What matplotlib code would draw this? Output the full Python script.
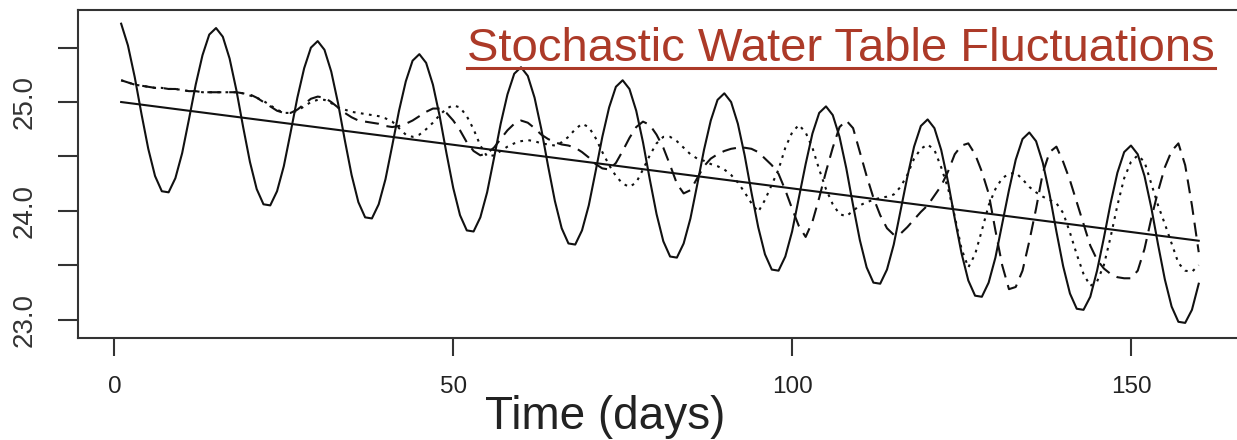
import matplotlib.pyplot as plt
import numpy as np
from matplotlib.lines import Line2D

# daily water table level (m) over 160 days
days = np.arange(1, 161)

level_periodic = [
    25.72, 25.52, 25.23, 24.89, 24.57, 24.32, 24.18, 24.17, 24.30, 24.53, 24.84, 25.16, 25.43, 25.62,
    25.68, 25.60, 25.40, 25.11, 24.77, 24.45, 24.20, 24.06, 24.05, 24.18, 24.41, 24.72, 25.04, 25.31, 25.50,
    25.56, 25.48, 25.28, 24.99, 24.65, 24.33, 24.08, 23.94, 23.93, 24.06, 24.29, 24.60, 24.92, 25.19, 25.38,
    25.44, 25.36, 25.16, 24.87, 24.53, 24.21, 23.96, 23.82, 23.81, 23.94, 24.17, 24.48, 24.80, 25.07, 25.26,
    25.32, 25.24, 25.04, 24.75, 24.41, 24.09, 23.84, 23.70, 23.69, 23.82, 24.05, 24.36, 24.68, 24.95, 25.14,
    25.20, 25.12, 24.92, 24.63, 24.29, 23.97, 23.72, 23.58, 23.57, 23.70, 23.93, 24.24, 24.56, 24.83, 25.02,
    25.08, 25.00, 24.80, 24.51, 24.17, 23.85, 23.60, 23.46, 23.45, 23.58, 23.81, 24.12, 24.43, 24.71, 24.90,
    24.96, 24.88, 24.68, 24.39, 24.05, 23.73, 23.48, 23.34, 23.33, 23.46, 23.69, 24.00, 24.31, 24.59, 24.78,
    24.84, 24.76, 24.56, 24.27, 23.93, 23.61, 23.36, 23.22, 23.21, 23.34, 23.57, 23.88, 24.19, 24.47, 24.66,
    24.72, 24.64, 24.44, 24.15, 23.81, 23.49, 23.24, 23.10, 23.09, 23.21, 23.45, 23.75, 24.07, 24.35, 24.54,
    24.60, 24.52, 24.32, 24.03, 23.69, 23.37, 23.12, 22.98, 22.97, 23.09, 23.33,
]

level_run_a = [
    25.20, 25.18, 25.16, 25.15, 25.14, 25.13, 25.13, 25.12, 25.12, 25.11,
    25.10, 25.10, 25.09, 25.09, 25.09, 25.09, 25.09, 25.09, 25.08, 25.07,
    25.04, 25.00, 24.96, 24.92, 24.90, 24.90, 24.93, 24.98, 25.03, 25.05,
    25.04, 25.00, 24.95, 24.90, 24.86, 24.83, 24.82, 24.81, 24.80, 24.78,
    24.77, 24.78, 24.80, 24.83, 24.87, 24.91, 24.94, 24.94, 24.90, 24.83,
    24.74, 24.63, 24.55, 24.51, 24.53, 24.58, 24.66, 24.74, 24.80, 24.83,
    24.81, 24.76, 24.70, 24.66, 24.63, 24.61, 24.60, 24.58, 24.54, 24.49,
    24.43, 24.39, 24.38, 24.44, 24.55, 24.67, 24.77, 24.82, 24.79, 24.70,
    24.58, 24.42, 24.25, 24.16, 24.19, 24.30, 24.41, 24.48, 24.52, 24.55,
    24.57, 24.58, 24.58, 24.57, 24.54, 24.48, 24.42, 24.34, 24.19, 24.02,
    23.86, 23.76, 23.90, 24.12, 24.36, 24.58, 24.77, 24.83, 24.76, 24.54,
    24.32, 24.12, 23.96, 23.84, 23.78, 23.79, 23.85, 23.92, 23.99, 24.05,
    24.14, 24.23, 24.36, 24.52, 24.60, 24.62, 24.52, 24.36, 24.16, 23.82,
    23.50, 23.28, 23.30, 23.45, 23.72, 24.02, 24.35, 24.54, 24.59, 24.45,
    24.28, 24.08, 23.88, 23.68, 23.55, 23.47, 23.42, 23.39, 23.38, 23.38,
    23.45, 23.65, 23.93, 24.18, 24.40, 24.55, 24.62, 24.42, 24.05, 23.62,
]

level_run_b = [
    25.20, 25.18, 25.16, 25.15, 25.14, 25.13, 25.13, 25.12, 25.12, 25.11,
    25.10, 25.10, 25.09, 25.09, 25.09, 25.09, 25.09, 25.09, 25.08, 25.06,
    25.04, 25.01, 24.97, 24.93, 24.90, 24.90, 24.92, 24.96, 25.00, 25.02,
    25.02, 24.99, 24.95, 24.93, 24.91, 24.90, 24.89, 24.88, 24.87, 24.85,
    24.82, 24.76, 24.70, 24.68, 24.70, 24.75, 24.81, 24.88, 24.94, 24.97,
    24.95, 24.87, 24.75, 24.60, 24.50, 24.51, 24.55, 24.59, 24.62, 24.64,
    24.65, 24.64, 24.62, 24.61, 24.60, 24.63, 24.68, 24.75, 24.80, 24.77,
    24.67, 24.54, 24.42, 24.32, 24.25, 24.22, 24.26, 24.38, 24.51, 24.62,
    24.68, 24.68, 24.64, 24.58, 24.52, 24.48, 24.46, 24.43, 24.41, 24.38,
    24.33, 24.26, 24.17, 24.07, 23.99, 24.10, 24.24, 24.38, 24.58, 24.72,
    24.79, 24.72, 24.58, 24.38, 24.20, 24.06, 23.97, 23.95, 24.00, 24.05,
    24.08, 24.10, 24.12, 24.13, 24.15, 24.22, 24.33, 24.48, 24.57, 24.61,
    24.56, 24.40, 24.21, 23.95, 23.65, 23.48, 23.60, 23.82, 24.05, 24.20,
    24.30, 24.34, 24.35, 24.29, 24.22, 24.17, 24.13, 24.10, 24.07, 23.98,
    23.80, 23.60, 23.42, 23.31, 23.35, 23.50, 23.76, 24.05, 24.30, 24.45,
    24.51, 24.45, 24.25, 24.05, 23.88, 23.70, 23.52, 23.45, 23.44, 23.50,
]

# linear decline of the mean level
trend_days = [1, 160]
trend_level = [25.0, 23.725]

xticks = [0, 50, 100, 150]
yticks = [23.0, 23.5, 24.0, 24.5, 25.0, 25.5]
ytick_labels = ['23.0', '', '24.0', '', '25.0', '']

sans = ['Liberation Sans', 'DejaVu Sans']

fig = plt.figure(figsize=(12.37, 4.40), dpi=100)
ax = fig.add_axes([0.0631, 0.2318, 0.9408, 0.7455])

ink = '#111111'
ax.plot(days, level_periodic, color=ink, lw=1.5)
ax.plot(days, level_run_a, color=ink, lw=1.5, linestyle=(0, (6.7, 3.8)))
ax.plot(days, level_run_b, color=ink, lw=1.5, linestyle=(0, (1.3, 2.6)))
ax.plot(trend_days, trend_level, color=ink, lw=1.5)

ax.set_xlim(-5.36, 166.36)
ax.set_ylim(22.831, 25.846)

ax.set_xticks(xticks)
ax.set_xticklabels([str(v) for v in xticks], family=sans, fontsize=17.5, color='#222222')
ax.set_yticks(yticks)
ax.set_yticklabels(ytick_labels, family=sans, fontsize=20, color='#333333',
                   rotation=90, va='center')
ax.tick_params(axis='x', direction='out', length=13, width=1.5, color='#333333', pad=14)
ax.tick_params(axis='y', direction='out', length=14.4, width=1.5, color='#333333', pad=15)

for side in ['left', 'top', 'bottom']:
    ax.spines[side].set_linewidth(1.5)
    ax.spines[side].set_color('#333333')
ax.spines['right'].set_visible(False)

fig.text(0.489, 0.025, 'Time (days)', family=sans, fontsize=33,
         color='#222222', ha='center', va='baseline')

title_color = '#AC3A28'
base_y = 1 - 61 / 440
title = fig.text(1215 / 1237, base_y, 'Stochastic Water Table Fluctuations',
                 family=sans, fontsize=34,
                 color=title_color, ha='right', va='baseline')

# underline the heading
fig.canvas.draw()
bb = title.get_window_extent()
x0 = bb.x0 / fig.bbox.width
x1 = bb.x1 / fig.bbox.width
ul_y = base_y - 7 / 440
fig.add_artist(Line2D([x0, x1], [ul_y, ul_y], transform=fig.transFigure,
                      color=title_color, lw=2.2))

fig.savefig('out.png', dpi=100)
